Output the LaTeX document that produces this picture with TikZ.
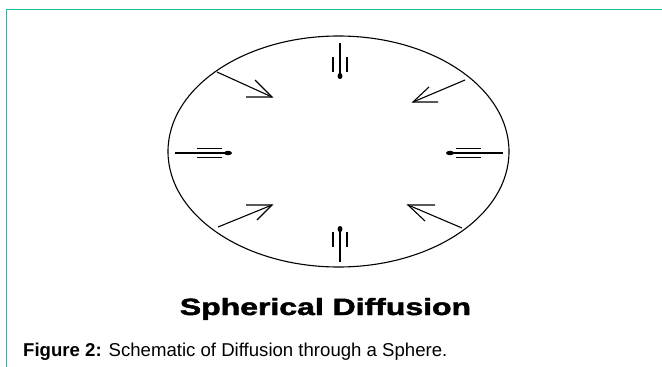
\documentclass[tikz,border=0pt]{standalone}
\usepackage{fontspec}
\setmainfont{Liberation Sans}
\newfontfamily\titlefont[FakeBold=1.8]{Liberation Sans Bold}
\definecolor{frameteal}{RGB}{30,188,160}
\tikzset{
  rim/.style={line width=1.1pt, black},
  shaft/.style={line width=1.1pt, black},
  blob/.style={fill=black},
}
\begin{document}
\begin{tikzpicture}[x=1pt,y=-1pt]
\useasboundingbox (0,0) rectangle (662,367);
% frame
\draw[frameteal, line width=1.3pt] (6.5,367) -- (6.5,9.5) -- (662,9.5);
% sphere
\draw[rim] (338.5,151.5) ellipse [x radius=170.5pt, y radius=115.5pt];
% top arrow
\draw[shaft] (340,43) -- (340,76);
\draw[shaft] (333,57) -- (333,72) (347,57) -- (347,72);
\fill[blob] (340,76) ellipse [x radius=2.5pt, y radius=3pt];
% bottom arrow
\draw[shaft] (340,262) -- (340,229);
\draw[shaft] (333,232) -- (333,247) (347,232) -- (347,247);
\fill[blob] (340,229) ellipse [x radius=2.5pt, y radius=3pt];
% left arrow
\draw[shaft] (175,153) -- (229,153);
\draw[shaft] (197,148.5) -- (222,148.5) (197,157.5) -- (222,157.5);
\fill[blob] (228,153) ellipse [x radius=4pt, y radius=2.2pt];
% right arrow
\draw[shaft] (503,153) -- (449,153);
\draw[shaft] (456,148.5) -- (481,148.5) (456,157.5) -- (481,157.5);
\fill[blob] (450,153) ellipse [x radius=4pt, y radius=2.2pt];
% upper-left
\draw[shaft] (217,72) -- (272,97);
\draw[shaft] (255,80) -- (272,97) -- (246,97);
% upper-right
\draw[shaft] (465,80) -- (413,102);
\draw[shaft] (429,87) -- (413,102) -- (438,102);
% lower-left
\draw[shaft] (218,227) -- (272,205);
\draw[shaft] (257,220) -- (272,205) -- (246,205);
% lower-right
\draw[shaft] (462,228) -- (408,205);
\draw[shaft] (425,221) -- (408,205) -- (435,205);
% title
\node[anchor=base, inner sep=0pt] (title) at (325.5,315)
  {\titlefont\fontsize{23.5}{28}\selectfont\scalebox{1.36}[1]{Spherical Diffusion}};
% caption
\node[anchor=base west, inner sep=0pt] (caption) at (23,356)
  {\fontsize{18.6}{22}\selectfont\textbf{Figure 2:} Schematic of Diffusion through a Sphere.};
\end{tikzpicture}
\end{document}
